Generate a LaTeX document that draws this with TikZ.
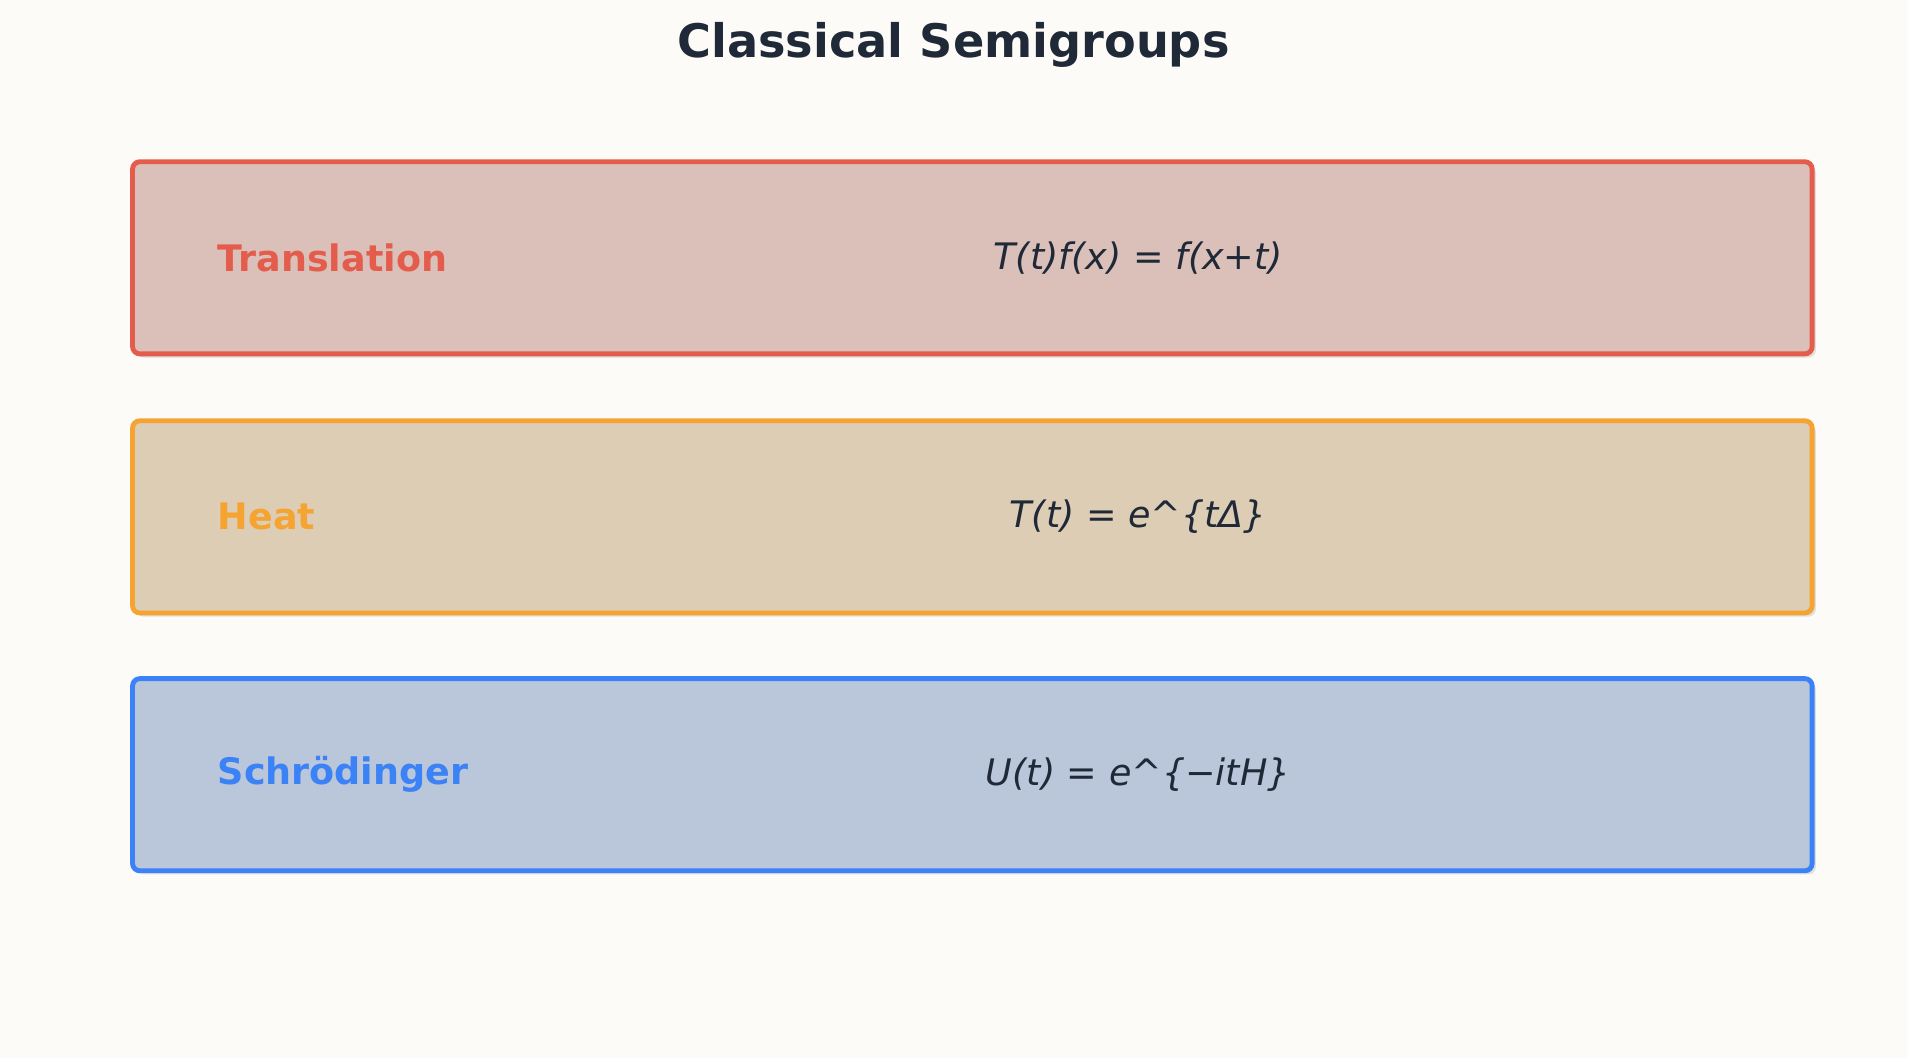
\documentclass[tikz,border=0pt]{standalone}
\usepackage{fontspec}
\setmainfont{DejaVu Sans}
\definecolor{bg}{HTML}{FCFBF8}
\definecolor{ink}{HTML}{1F2937}
\definecolor{cr}{HTML}{E45D4C}\definecolor{fr}{HTML}{DBBFB9}
\definecolor{co}{HTML}{F5A431}\definecolor{fo}{HTML}{DDCDB5}
\definecolor{cb}{HTML}{3B82F6}\definecolor{fb}{HTML}{BAC6D9}
\begin{document}
\begin{tikzpicture}[x=0.5pt,y=-0.5pt,
  card/.style={draw=#1,line width=2pt,rounded corners=3pt},
  lab/.style={anchor=west,font=\fontsize{15}{18}\selectfont\bfseries},
  formula/.style={text=ink,font=\fontsize{15}{18}\selectfont\itshape}]
\fill[bg] (0,0) rectangle (1568,870);
\useasboundingbox (0,0) rectangle (1568,870);
\node[text=ink,font=\fontsize{19}{23}\selectfont\bfseries] (title) at (784,37) {Classical Semigroups};
\foreach \n/\y/\c/\f/\t/\e in {a/212/cr/fr/Translation/{T(t)f(x) = f(x+t)},
  b/425/co/fo/Heat/{T(t) = e\^{}\{tΔ\}},
  c/637/cb/fb/Schrödinger/{U(t) = e\^{}\{−itH\}}}{
  \fill[black!12,rounded corners=3pt] (112,\y-76) rectangle (1493,\y+82);
  \draw[card=\c,fill=\f] (109,\y-79) rectangle (1490,\y+79);
  \node[lab,text=\c] (l\n) at (172,\y) {\t};
  \node[formula] (f\n) at (936,\y) {\e};
}
\end{tikzpicture}
\end{document}
